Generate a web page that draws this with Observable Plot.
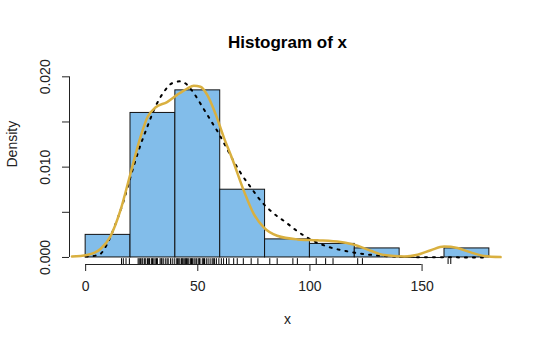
<!DOCTYPE html>
<html>
<head>
<meta charset="utf-8">
<script src="https://cdn.jsdelivr.net/npm/d3@7"></script>
<script src="https://cdn.jsdelivr.net/npm/@observablehq/plot@0.6"></script>
<style>
  html, body { margin: 0; padding: 0; background: #fff; }
  #chart { width: 540px; height: 351px; }
</style>
</head>
<body>
<div id="chart"></div>
<script>
// Histogram bins (breaks) and densities
const breaks = [0, 20, 40, 60, 80, 100, 120, 140, 160, 180];
const densities = [0.0025, 0.016, 0.0185, 0.0075, 0.002, 0.0015, 0.001, 0, 0.001];

// Kernel density curve
const kdeX = [-6.1, 0.6, 6.6, 11, 15.5, 20, 24.4, 27.7, 31.1, 36.3, 40.8, 45.3, 48.2, 51.2, 54.2, 57.9, 61.6, 65.4, 70.5, 75, 79.5, 85.4, 94.4, 103.3, 113.7, 121.2, 127.1, 133, 142, 148, 153.9, 159.8, 165.8, 171.7, 177.7, 185];
const kdeY = [0.0001, 0.00027, 0.00093, 0.0023, 0.0052, 0.0093, 0.0133, 0.0156, 0.0166, 0.0172, 0.018, 0.0187, 0.019, 0.0189, 0.018, 0.0159, 0.0133, 0.0109, 0.0074, 0.0048, 0.0033, 0.0024, 0.002, 0.0019, 0.0017, 0.0013, 0.00074, 0.00026, 0.0001, 0.0003, 0.0008, 0.0012, 0.00104, 0.00056, 0.00016, 0.00004];

// Fitted normal curve (dotted)
const normX = [0, 5.8, 9.6, 13.3, 17, 20, 23.7, 27.4, 31.1, 34.8, 38.6, 42.3, 45.3, 48.2, 52, 55.7, 59.4, 63.1, 66.1, 69, 73.5, 78.7, 83.2, 89.2, 94.4, 101.8, 109.2, 116.7, 124.1, 133, 143, 154, 165, 179];
const normY = [0.0001, 0.00027, 0.0015, 0.0037, 0.0063, 0.0089, 0.0119, 0.0144, 0.0167, 0.0183, 0.0193, 0.0195, 0.0191, 0.0182, 0.0167, 0.0152, 0.0137, 0.012, 0.0106, 0.0094, 0.0078, 0.0061, 0.005, 0.0039, 0.0029, 0.0018, 0.0011, 0.00067, 0.00038, 0.00016, 0.00005, 0.00002, 0.00001, 0];

// Rug (observations)
const rugX = [16, 16.8, 18, 19.5,
  23.4, 23.9, 24.5, 25.1, 25.5, 26.3, 26.8, 27.6, 28.1, 28.5, 29.3, 29.8, 30.4, 31, 31.6, 32, 33.2, 33.7, 34, 34.6, 35.5, 36.3, 36.8, 37.8, 38.6, 39.5,
  40.4, 41, 41.5, 42, 42.7, 43.1, 43.5, 44.2, 44.6, 45, 45.5, 46, 46.7, 47.2, 47.6, 48.3, 48.8, 49.5, 50.2, 50.7, 51, 52, 52.5, 53, 53.8, 54.6, 55.5, 56.4, 56.9, 57.5, 58.3, 59.4, 60.5, 61.5,
  62.8, 63.9, 66, 67.6, 70.3, 73.8, 76.8, 82.1, 85.4, 92.4, 94.4, 102.8, 107, 110.3, 121.3, 123.4, 161.6, 162.8];

// Axis ticks
const xTicks = [0, 50, 100, 150];
const xTickLabels = ["0", "50", "100", "150"];
const yTicks = [0, 0.005, 0.01, 0.015, 0.02];
const yTickLabels = ["0.000", "0.010", "0.020"];
const yLabelValues = [0, 0.01, 0.02];

const titleText = "Histogram of x";
const xLabel = "x";
const yLabel = "Density";

const bins = densities.map((d, i) => ({x1: breaks[i], x2: breaks[i + 1], density: d}));
const kde = kdeX.map((x, i) => ({x, y: kdeY[i]}));
const norm = normX.map((x, i) => ({x, y: normY[i]}));
const yLabelsData = yLabelValues.map((v, i) => ({v, t: yTickLabels[i]}));
const xLabelsData = xTicks.map((v, i) => ({v, t: xTickLabels[i]}));

const xDom = [-7.2, 187.2];
const yDom = [-0.00078, 0.0207];
const ink = "#222";

const chart = Plot.plot({
  width: 540,
  height: 351,
  marginLeft: 69,
  marginRight: 35,
  marginTop: 70,
  marginBottom: 87,
  x: {domain: xDom, axis: null},
  y: {domain: yDom, axis: null},
  style: {fontFamily: "'Liberation Sans', Arial, sans-serif", fontSize: "14px", color: ink, background: "#fff"},
  marks: [
    Plot.rectY(bins, {x1: "x1", x2: "x2", y: "density", fill: "#82BDEA", stroke: "#111", strokeWidth: 1}),
    Plot.ruleY(bins.filter(d => d.density === 0), {y: 0, x1: "x1", x2: "x2", stroke: "#111", strokeWidth: 1}),
    Plot.line(norm, {x: "x", y: "y", stroke: "#000", strokeWidth: 2, strokeDasharray: "2,6", curve: "monotone-x"}),
    Plot.line(kde, {x: "x", y: "y", stroke: "#D9B040", strokeWidth: 2.5, curve: "monotone-x"}),
    Plot.ruleX(rugX, {x: d => d, y1: yDom[0], y2: yDom[0] + (yDom[1] - yDom[0]) * 0.03, stroke: "#000", strokeWidth: 1}),
    // x axis
    Plot.ruleY([yDom[0]], {y: d => d, x1: xTicks[0], x2: xTicks[xTicks.length - 1], stroke: ink}),
    Plot.axisX({ticks: xTicks, tickSize: 7, tickFormat: () => "", label: null, stroke: ink}),
    Plot.text(xLabelsData, {x: "v", text: "t", frameAnchor: "bottom", dy: 26, fontSize: 14, fill: ink}),
    // y axis
    Plot.ruleX([xDom[0]], {x: d => d, y1: yTicks[0], y2: yTicks[yTicks.length - 1], stroke: ink}),
    Plot.axisY({ticks: yTicks, tickSize: 7, tickFormat: () => "", label: null, stroke: ink}),
    Plot.text(yLabelsData, {y: "v", text: "t", frameAnchor: "left", dx: -24, rotate: -90, textAnchor: "middle", fontSize: 14, fill: ink}),
    // labels
    Plot.text([titleText], {frameAnchor: "top", dy: -35, fontWeight: "bold", fontSize: 17, fill: "#000"}),
    Plot.text([xLabel], {frameAnchor: "bottom", dy: 59, fontSize: 14, fill: ink}),
    Plot.text([yLabel], {frameAnchor: "left", dx: -57, rotate: -90, fontSize: 14, fill: ink})
  ]
});
document.getElementById("chart").appendChild(chart);
</script>
</body>
</html>
